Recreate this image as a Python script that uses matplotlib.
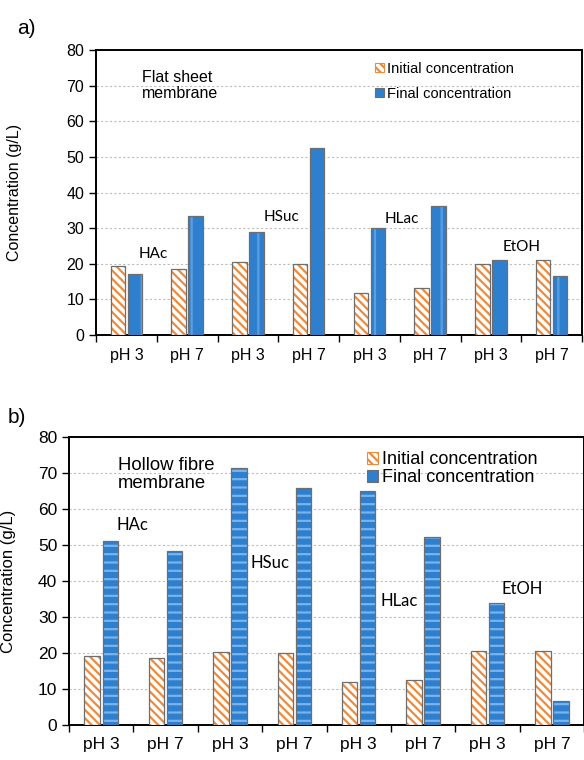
import matplotlib
matplotlib.use("Agg")
import matplotlib.pyplot as plt
import numpy as np
from matplotlib.patches import Patch

plt.rcParams["font.family"] = ["Liberation Sans", "DejaVu Sans"]
plt.rcParams["hatch.linewidth"] = 1.6

# ---- data ----
ph_labels = ["pH 3", "pH 7", "pH 3", "pH 7", "pH 3", "pH 7", "pH 3", "pH 7"]
compounds = ["HAc", "HSuc", "HLac", "EtOH"]

flat_initial = [19.5, 18.5, 20.5, 20.0, 11.7, 13.1, 19.8, 21.1]
flat_final = [17.0, 33.3, 29.0, 52.6, 30.0, 36.3, 21.1, 16.6]

hollow_initial = [19.1, 18.5, 20.4, 20.0, 12.0, 12.4, 20.6, 20.6]
hollow_final = [51.0, 48.3, 71.3, 65.8, 65.0, 52.2, 33.8, 6.7]

# label anchor points (group position, g/L) for the compound names
flat_label_pos = [(0.95, 22.8), (3.05, 33.2), (5.03, 32.6), (7.0, 24.8)]
hollow_label_pos = [(0.99, 55.6), (3.12, 45.0), (5.13, 34.5), (7.04, 37.7)]

ORANGE = "#ef8a3a"
BLUE = "#2f7fcf"
EDGE = "#6e6e6e"


def draw_panel(ax, initial, final, final_hatch, stripe, note, label_pos,
               tick_fs, note_fs, leg_fs, leg_spacing, ylab_x, ylab_fs):
    x = np.arange(len(initial)) + 0.5
    w = 0.24
    # initial: orange hatch on white, grey outline drawn on top
    ax.bar(x - 0.14, initial, w, color="white", edgecolor=ORANGE,
           hatch="\\\\\\\\", linewidth=0, zorder=3)
    ax.bar(x - 0.14, initial, w, fill=False, edgecolor=EDGE,
           linewidth=0.9, zorder=4)
    # final: blue with light stripes
    ax.bar(x + 0.14, final, w, color=BLUE, edgecolor=stripe,
           hatch=final_hatch, linewidth=0, zorder=3)
    ax.bar(x + 0.14, final, w, fill=False, edgecolor=EDGE,
           linewidth=0.9, zorder=4)

    ax.set_xlim(0, len(initial))
    ax.set_ylim(0, 80)
    ax.set_yticks(range(0, 81, 10))
    ax.set_xticks(x)
    ax.set_xticklabels(ph_labels)
    ax.set_xticks(np.arange(len(initial) + 1), minor=True)
    ax.tick_params(axis="x", which="major", length=0, labelsize=tick_fs, pad=9)
    ax.tick_params(axis="x", which="minor", length=5, width=1.0, direction="out")
    ax.tick_params(axis="y", length=5, width=1.0, labelsize=tick_fs)
    ax.yaxis.grid(True, linestyle=(0, (2, 2)), color="#bdbdbd", linewidth=0.8)
    ax.set_axisbelow(True)
    for s in ax.spines.values():
        s.set_linewidth(1.4)
        s.set_color("black")

    ax.set_ylabel("Concentration (g/L)", fontsize=ylab_fs)
    ax.yaxis.set_label_coords(ylab_x, 0.5)

    ax.text(0.095, 0.93, note, transform=ax.transAxes, fontsize=note_fs,
            va="top", ha="left", linespacing=1.1)

    for name, (px, py) in zip(compounds, label_pos):
        ax.text(px, py, name, ha="center", va="center", fontsize=tick_fs - 0.5,
                family=["Lato", "DejaVu Sans"], zorder=5)

    handles = [
        Patch(facecolor="white", edgecolor=ORANGE, hatch="\\\\\\\\", linewidth=0.8),
        Patch(facecolor=BLUE, edgecolor=EDGE, linewidth=0.8),
    ]
    ax.legend(handles, ["Initial concentration", "Final concentration"],
              loc="upper left", bbox_to_anchor=(0.55, 1.0), frameon=False,
              fontsize=leg_fs, handlelength=0.6, handleheight=0.6,
              handletextpad=0.25, labelspacing=leg_spacing, borderaxespad=0.4)


fig = plt.figure(figsize=(5.84, 7.6), dpi=100)

ax_a = fig.add_axes([0.1644, 0.5592, 0.8322, 0.375])
draw_panel(ax_a, flat_initial, flat_final, "|", "#5b9fe0",
           "Flat sheet\nmembrane", flat_label_pos,
           tick_fs=11.5, note_fs=11.5, leg_fs=10.5, leg_spacing=0.75,
           ylab_x=-0.152, ylab_fs=11.5)

ax_b = fig.add_axes([0.1182, 0.0461, 0.8818, 0.379])
draw_panel(ax_b, hollow_initial, hollow_final, "--", "#7ab4ea",
           "Hollow fibre\nmembrane", hollow_label_pos,
           tick_fs=12.5, note_fs=13.3, leg_fs=13, leg_spacing=0.05,
           ylab_x=-0.103, ylab_fs=12)

fig.text(0.03, 0.963, "a)", fontsize=15, va="center")
fig.text(0.013, 0.4513, "b)", fontsize=15, va="center")

fig.savefig("out.png", dpi=100)
